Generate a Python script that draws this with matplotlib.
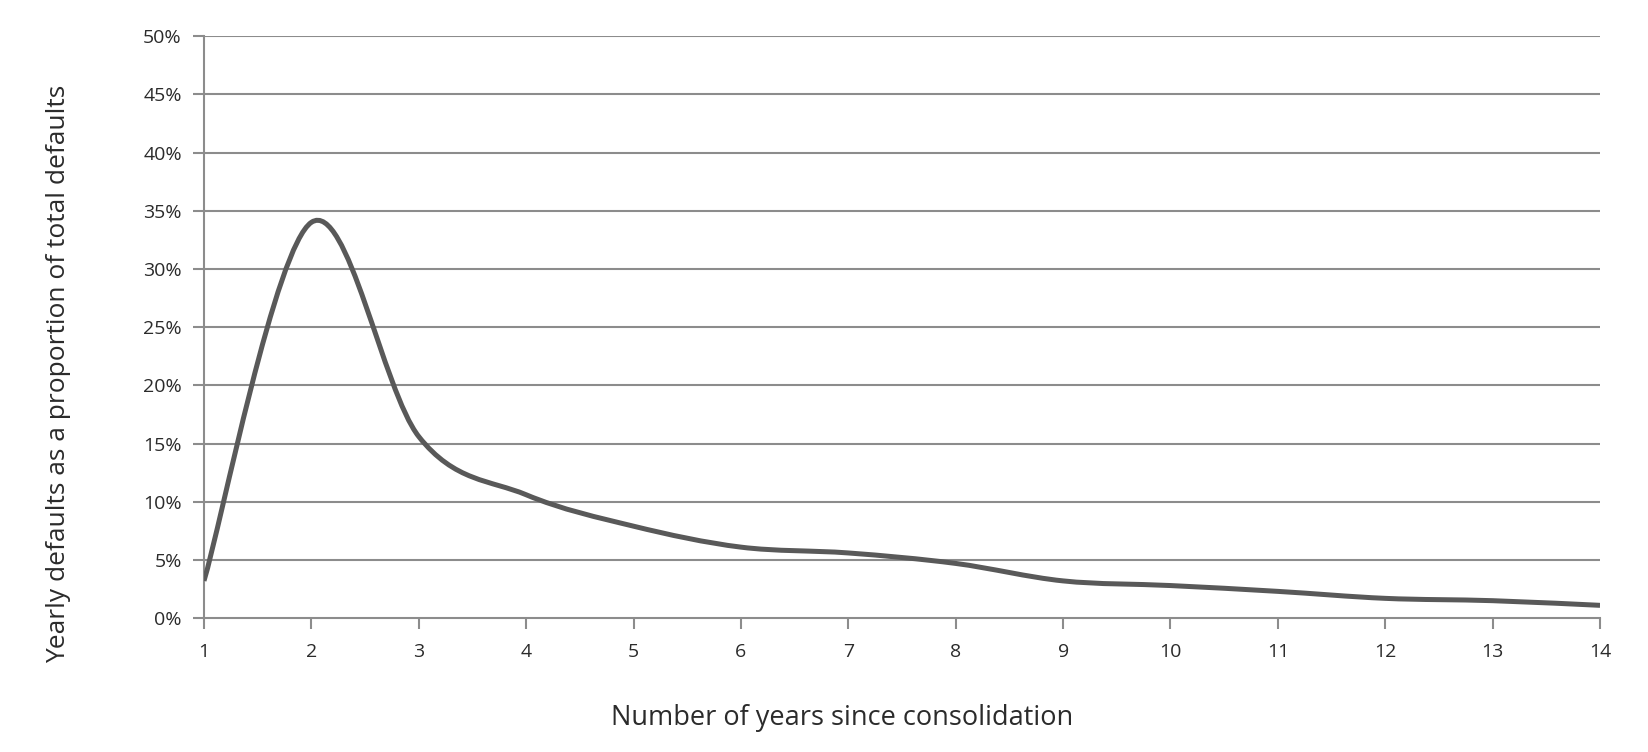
import numpy as np
import matplotlib.pyplot as plt
from matplotlib.path import Path
from matplotlib.patches import PathPatch
from matplotlib.ticker import PercentFormatter

# Yearly defaults as a share of total defaults, by years since consolidation
years = [1, 2, 3, 4, 5, 6, 7, 8, 9, 10, 11, 12, 13, 14]
share = [3.2, 34.0, 15.6, 10.6, 7.9, 6.1, 5.6, 4.7, 3.2, 2.8, 2.3, 1.7, 1.5, 1.1]

y_ticks = [0, 5, 10, 15, 20, 25, 30, 35, 40, 45, 50]

plt.rcParams['font.family'] = ['Open Sans', 'DejaVu Sans']

grid_col = '#8c8c8c'
line_col = '#595959'
text_col = '#2b2b2b'


def smooth_path(xs, ys):
    """Excel-style smoothed line as cubic Bezier segments."""
    pts = np.column_stack([xs, ys]).astype(float)
    n = len(pts)
    verts = [pts[0]]
    codes = [Path.MOVETO]
    for i in range(n - 1):
        p0 = pts[max(i - 1, 0)]
        p1 = pts[i]
        p2 = pts[i + 1]
        p3 = pts[min(i + 2, n - 1)]
        c1 = p1 + (p2 - p0) / 6.0
        c2 = p2 - (p3 - p1) / 6.0
        verts += [c1, c2, p2]
        codes += [Path.CURVE4] * 3
    return Path(verts, codes)


fig = plt.figure(figsize=(16.49, 7.52), dpi=100)
ax = fig.add_axes([0.1237, 0.178, 0.8466, 0.774])

for t in y_ticks[1:]:
    ax.axhline(t, color=grid_col, linewidth=1.5, zorder=1)

patch = PathPatch(smooth_path(years, share), fill=False, edgecolor=line_col,
                  linewidth=3.6, capstyle='butt', joinstyle='round', zorder=3)
ax.add_patch(patch)

ax.set_xlim(1, 14)
ax.set_ylim(0, 50)
ax.set_xticks(years)
ax.set_yticks(y_ticks)
ax.yaxis.set_major_formatter(PercentFormatter(decimals=0))

for side in ['top', 'right']:
    ax.spines[side].set_visible(False)
for side in ['left', 'bottom']:
    ax.spines[side].set_color(grid_col)
    ax.spines[side].set_linewidth(1.5)

ax.tick_params(axis='both', colors=grid_col, width=1.5, length=8,
               labelcolor=text_col, labelsize=14)
ax.tick_params(axis='x', pad=10)
ax.tick_params(axis='y', pad=8)

ax.set_xlabel('Number of years since consolidation', fontsize=19.5,
              color=text_col)
ax.set_ylabel('Yearly defaults as a proportion of total defaults', fontsize=19,
              color=text_col)
ax.xaxis.set_label_coords(0.457, -0.148)
ax.yaxis.set_label_coords(-0.095, 0.42)

fig.savefig('out.png', dpi=100)
